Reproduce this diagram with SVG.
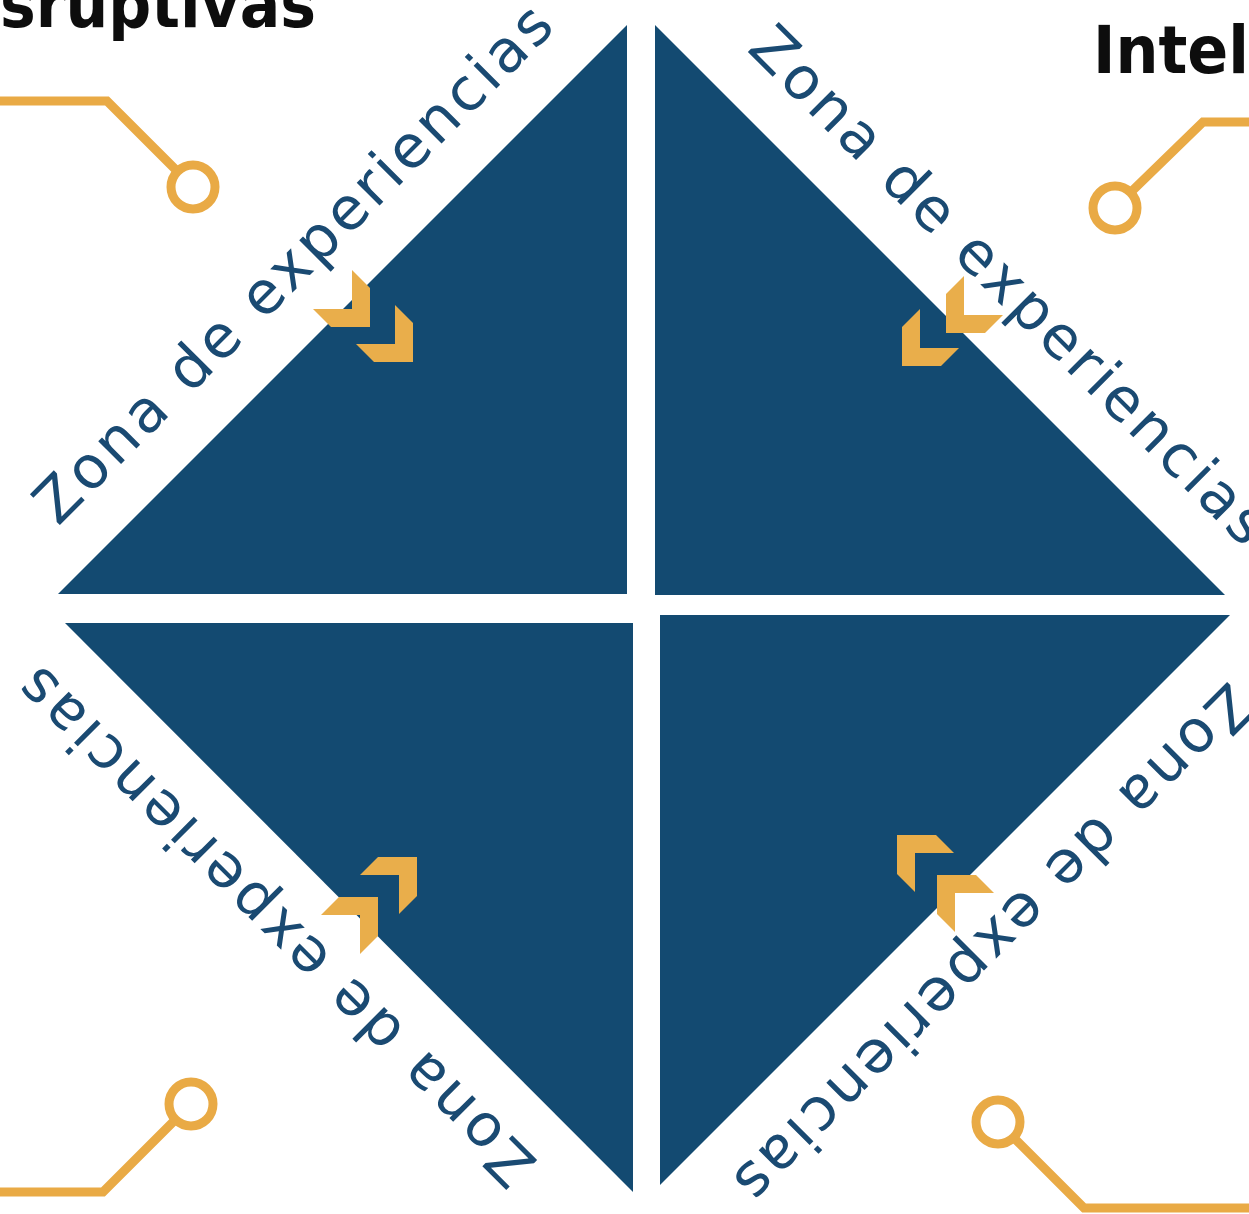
<svg xmlns="http://www.w3.org/2000/svg" xmlns:xlink="http://www.w3.org/1999/xlink" width="1249" height="1214" viewBox="0 0 1249 1214">
<style>
.tri{fill:#134a71}
.zone{font-family:"DejaVu Sans","Noto Sans",sans-serif;font-size:59px;fill:#1a4a72}
.head{font-family:"DejaVu Sans","Liberation Sans",sans-serif;font-weight:bold;font-size:66px;fill:#0d0d0d}
.chev{fill:#e9ae4b}
.wire{fill:none;stroke:#e9aa45;stroke-width:9}
</style>
<defs>
<polygon id="chevron" points="0,0 0,-39 -18,-57 -18,-18 -57,-18 -39,0"/>
</defs>
<rect width="1249" height="1214" fill="#ffffff"/>

<g id="heading-left"><text class="head" x="0" y="27" textLength="316" lengthAdjust="spacingAndGlyphs">sruptivas</text></g>
<g id="heading-right"><text class="head" x="1093" y="73" textLength="156" lengthAdjust="spacingAndGlyphs">Intel</text></g>

<g id="connectors">
<polyline class="wire" points="0,101 107,101 177,171"/>
<circle class="wire" cx="193" cy="187" r="22"/>
<polyline class="wire" points="1249,122 1203,122 1131,192"/>
<circle class="wire" cx="1115" cy="208" r="22"/>
<polyline class="wire" points="0,1192 103,1192 175,1120"/>
<circle class="wire" cx="191" cy="1104" r="22"/>
<polyline class="wire" points="1249,1208 1084,1208 1014,1138"/>
<circle class="wire" cx="998" cy="1122" r="22"/>
</g>

<g id="quadrant-top-left">
<polygon class="tri" points="627,25 58,594 627,594"/>
<text class="zone" transform="translate(58,527) rotate(-45)" textLength="705">Zona de experiencias</text>
<use class="chev" xlink:href="#chevron" transform="translate(370,327)"/>
<use class="chev" xlink:href="#chevron" transform="translate(413,362)"/>
</g>

<g id="quadrant-top-right">
<polygon class="tri" points="655,25 655,595 1225,595"/>
<text class="zone" transform="translate(746,50) rotate(45)" textLength="705">Zona de experiencias</text>
<use class="chev" xlink:href="#chevron" transform="translate(946,333) scale(-1,1)"/>
<use class="chev" xlink:href="#chevron" transform="translate(902,366) scale(-1,1)"/>
</g>

<g id="quadrant-bottom-left">
<polygon class="tri" points="65,623 633,623 633,1192"/>
<text class="zone" transform="translate(539,1162) rotate(-135)" textLength="705">Zona de experiencias</text>
<use class="chev" xlink:href="#chevron" transform="translate(417,857) scale(1,-1)"/>
<use class="chev" xlink:href="#chevron" transform="translate(378,897) scale(1,-1)"/>
</g>

<g id="quadrant-bottom-right">
<polygon class="tri" points="660,615 1230,615 660,1185"/>
<text class="zone" transform="translate(1229,680) rotate(135)" textLength="705">Zona de experiencias</text>
<use class="chev" xlink:href="#chevron" transform="translate(897,835) scale(-1,-1)"/>
<use class="chev" xlink:href="#chevron" transform="translate(937,875) scale(-1,-1)"/>
</g>
</svg>
